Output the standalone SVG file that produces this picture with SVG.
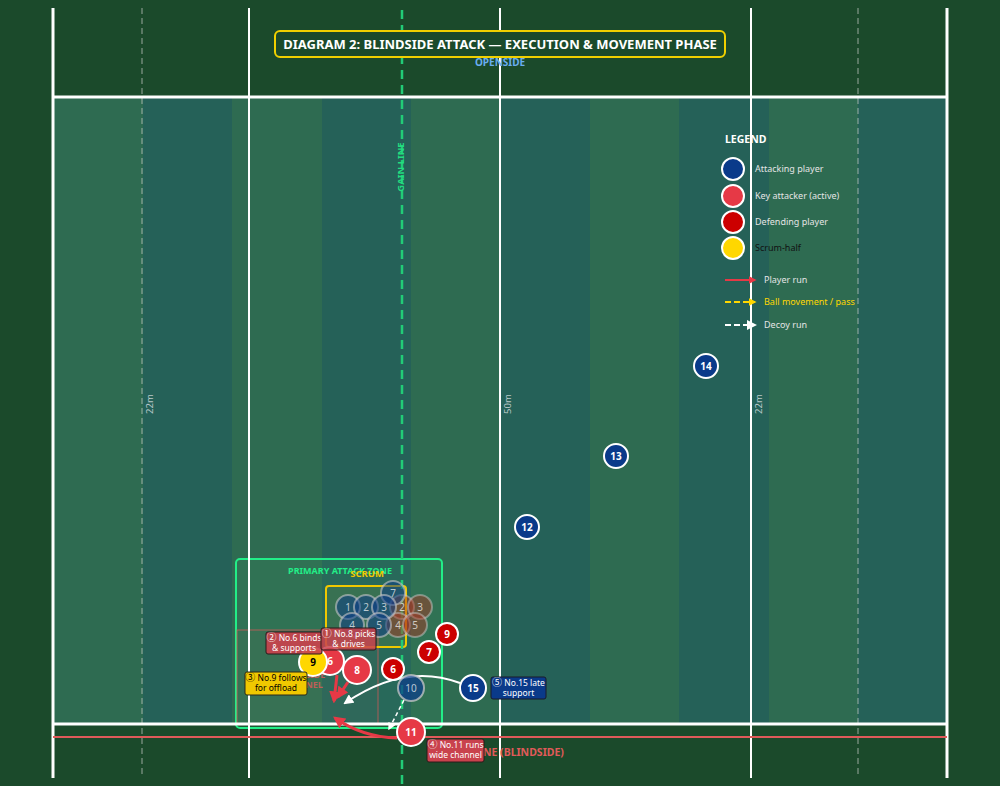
<svg xmlns="http://www.w3.org/2000/svg" width="1000" height="786" viewBox="0 0 1000 786">
<defs>
<style>
text{font-family:"Noto Sans","Open Sans","Liberation Sans",sans-serif}
.cj{font-family:"Noto Sans CJK SC","DejaVu Sans",sans-serif;font-size:10px}
.stL{fill:#2e6b51}
.stD{fill:#256158}
.wl{stroke:#ffffff;stroke-width:2}
.tl{stroke:#ffffff;stroke-width:3}
.dl{stroke:#d0d0d0;stroke-width:1;stroke-dasharray:6 4;opacity:0.7}
.dist{fill:#b8c8c8;font-size:9.5px}
.att{fill:#0a3a8a;stroke:#ffffff;stroke-width:2}
.key{fill:#e63946;stroke:#ffffff;stroke-width:2}
.def{fill:#cc0000;stroke:#ffffff;stroke-width:2}
.sh{fill:#ffd700;stroke:#ffffff;stroke-width:2}
.sa{fill:#0a3a8a;fill-opacity:0.5;stroke:#c8c8c8;stroke-opacity:0.6;stroke-width:2}
.sd{fill:#b03020;fill-opacity:0.45;stroke:#c8c8c8;stroke-opacity:0.5;stroke-width:2}
.num{fill:#ffffff;font-size:10px;font-weight:bold;text-anchor:middle}
.snum{fill:#ffffff;fill-opacity:0.7;font-size:10px;text-anchor:middle}
.lbl{font-size:8.5px;text-anchor:middle}
.leg{fill:#e4e4e4;font-size:9px}
.run{stroke:#e63946;stroke-width:3;fill:none}
</style>
<marker id="ar" viewBox="0 0 10 10" refX="8" refY="5" markerWidth="4" markerHeight="4" orient="auto"><path d="M0,0 L10,5 L0,10 z" fill="#e63946"/></marker>
<marker id="aw" viewBox="0 0 10 10" refX="8" refY="5" markerWidth="5" markerHeight="5" orient="auto"><path d="M0,0 L10,5 L0,10 z" fill="#ffffff"/></marker>
<marker id="ay" viewBox="0 0 10 10" refX="8" refY="5" markerWidth="4" markerHeight="4" orient="auto"><path d="M0,0 L10,5 L0,10 z" fill="#ffd700"/></marker>
</defs>
<rect width="1000" height="786" fill="#1b4a2b"/>
<g id="stripes">
<rect class="stL" x="53" y="97" width="90" height="627"/>
<rect class="stD" x="143" y="97" width="89" height="627"/>
<rect class="stL" x="232" y="97" width="90" height="627"/>
<rect class="stD" x="322" y="97" width="89" height="627"/>
<rect class="stL" x="411" y="97" width="89" height="627"/>
<rect class="stD" x="500" y="97" width="90" height="627"/>
<rect class="stL" x="590" y="97" width="89" height="627"/>
<rect class="stD" x="679" y="97" width="90" height="627"/>
<rect class="stL" x="769" y="97" width="89" height="627"/>
<rect class="stD" x="858" y="97" width="89" height="627"/>
</g>
<g id="zone-fills">
<rect x="236" y="559" width="206" height="169" rx="4" fill="#3a9a6a" fill-opacity="0.15" stroke="#22ee88" stroke-width="2"/>
<rect x="237" y="630" width="141" height="94" fill="#e05a5a" fill-opacity="0.04" stroke="#e05a5a" stroke-opacity="0.7" stroke-width="1"/>
<rect x="326" y="586" width="80" height="61" rx="3" fill="#ffd700" fill-opacity="0.08" stroke="#f0c800" stroke-width="2"/>
</g>
<g id="field">
<line class="dl" x1="142" y1="8" x2="142" y2="778"/>
<line class="dl" x1="858" y1="8" x2="858" y2="778"/>
<line class="wl" x1="249" y1="8" x2="249" y2="778"/>
<line class="wl" x1="500" y1="8" x2="500" y2="778"/>
<line class="wl" x1="751" y1="8" x2="751" y2="778"/>
<line class="tl" x1="53" y1="8" x2="53" y2="778"/>
<line class="tl" x1="947" y1="8" x2="947" y2="778"/>
<line class="tl" x1="53" y1="97" x2="947" y2="97"/>
<line class="tl" x1="53" y1="724" x2="947" y2="724"/>
<line x1="53" y1="737" x2="947" y2="737" stroke="#e05a5a" stroke-width="2"/>
<text x="500" y="756" fill="#e05a5a" font-size="10.5" font-weight="bold" text-anchor="middle">TOUCHLINE (BLINDSIDE)</text>
<text x="500" y="66" fill="#6aaef0" font-size="10" font-weight="bold" text-anchor="middle">OPENSIDE</text>
<text class="dist" transform="translate(153,404) rotate(-90)" text-anchor="middle">22m</text>
<text class="dist" transform="translate(511,404) rotate(-90)" text-anchor="middle">50m</text>
<text class="dist" transform="translate(762,404) rotate(-90)" text-anchor="middle">22m</text>
<line x1="402" y1="10" x2="402" y2="786" stroke="#22cc77" stroke-width="2.5" stroke-dasharray="9 6"/>
<text transform="translate(404,167) rotate(-90)" fill="#22dd80" font-size="9.5" font-weight="bold" text-anchor="middle">GAIN LINE</text>
</g>
<g id="title">
<rect x="275" y="31" width="450" height="26" rx="5" fill="#1b4a2b" stroke="#f0d000" stroke-width="2"/>
<text x="500" y="48.5" fill="#ffffff" font-size="13" font-weight="bold" text-anchor="middle">DIAGRAM 2: BLINDSIDE ATTACK — EXECUTION &amp; MOVEMENT PHASE</text>
</g>
<g id="zone-labels">
<text x="340" y="574" fill="#22ee88" font-size="9" font-weight="bold" text-anchor="middle">PRIMARY ATTACK ZONE</text>
<text x="301" y="678" fill="#e05a5a" fill-opacity="0.8" font-size="9" font-weight="bold" text-anchor="middle">BLINDSIDE</text>
<text x="301" y="688" fill="#e05a5a" fill-opacity="0.8" font-size="9" font-weight="bold" text-anchor="middle">CHANNEL</text>
<text x="367" y="577" fill="#f0c800" font-size="9.5" font-weight="bold" text-anchor="middle">SCRUM</text>
</g>
<g id="scrum">
<circle class="sd" cx="402" cy="607" r="12"/><text class="snum" x="402" y="611">2</text>
<circle class="sd" cx="420" cy="607" r="12"/><text class="snum" x="420" y="611">3</text>
<circle class="sd" cx="398" cy="625" r="12"/><text class="snum" x="398" y="629">4</text>
<circle class="sd" cx="415" cy="625" r="12"/><text class="snum" x="415" y="629">5</text>
<circle class="sa" cx="393" cy="593" r="12"/><text class="snum" x="393" y="597">7</text>
<circle class="sa" cx="348" cy="607" r="12"/><text class="snum" x="348" y="611">1</text>
<circle class="sa" cx="366" cy="607" r="12"/><text class="snum" x="366" y="611">2</text>
<circle class="sa" cx="384" cy="607" r="12"/><text class="snum" x="384" y="611">3</text>
<circle class="sa" cx="352" cy="625" r="12"/><text class="snum" x="352" y="629">4</text>
<circle class="sa" cx="379" cy="625" r="12"/><text class="snum" x="379" y="629">5</text>
</g>
<g id="connectors">
<path d="M460,683 Q405,662 345,703" fill="none" stroke="#ffffff" stroke-width="2" marker-end="url(#aw)"/>
<path d="M404,700 L389,729" fill="none" stroke="#ffffff" stroke-width="1.5" stroke-dasharray="4 3" marker-end="url(#aw)"/>
<path class="run" d="M337,675 L334,701" marker-end="url(#ar)"/>
<path class="run" d="M348,682 L338,697" marker-end="url(#ar)"/>
<path class="run" d="M397,738 Q362,737 335,718" marker-end="url(#ar)"/>
</g>
<g id="p-d9"><circle class="def" cx="447" cy="634" r="11"/><text class="num" x="447" y="638">9</text></g>
<g id="p-d7"><circle class="def" cx="429" cy="652" r="11"/><text class="num" x="429" y="656">7</text></g>
<g id="p-d6"><circle class="def" cx="393" cy="669" r="11"/><text class="num" x="393" y="673">6</text></g>
<g id="p-10"><circle cx="411" cy="688" r="13" fill="#0a3a8a" fill-opacity="0.7" stroke="#c8c8c8" stroke-opacity="0.75" stroke-width="2"/><text class="snum" x="411" y="692">10</text></g>
<g id="p-15"><circle class="att" cx="473" cy="688" r="13"/><text class="num" x="473" y="692">15</text></g>
<g id="p-8"><circle class="key" cx="357" cy="670" r="14"/><text class="num" x="357" y="674">8</text></g>
<g id="p-6"><circle class="key" cx="330" cy="661" r="14"/><text class="num" x="330" y="665">6</text></g>
<g id="p-9"><circle class="sh" cx="313" cy="662" r="14"/><text class="num" x="313" y="666" style="fill:#000">9</text></g>
<g id="p-11"><circle class="key" cx="411" cy="732" r="14"/><text class="num" x="411" y="736">11</text></g>
<g id="p-12"><circle class="att" cx="527" cy="527" r="12"/><text class="num" x="527" y="531">12</text></g>
<g id="p-13"><circle class="att" cx="616" cy="456" r="12"/><text class="num" x="616" y="460">13</text></g>
<g id="p-14"><circle class="att" cx="706" cy="366" r="12"/><text class="num" x="706" y="370">14</text></g>
<g id="labels">
<g id="l2"><rect x="266" y="632" width="56" height="22" rx="2" fill="#c9424d" fill-opacity="0.92" stroke="#2a1a1a" stroke-width="1"/>
<text class="lbl" x="294" y="641" fill="#ffffff"><tspan class="cj">②</tspan> No.6 binds</text><text class="lbl" x="294" y="651" fill="#ffffff">&amp; supports</text></g>
<g id="l1"><rect x="321" y="628" width="55" height="22" rx="2" fill="#c9424d" fill-opacity="0.85" stroke="#2a1a1a" stroke-width="1"/>
<text class="lbl" x="348.5" y="637" fill="#ffffff"><tspan class="cj">①</tspan> No.8 picks</text><text class="lbl" x="348.5" y="647" fill="#ffffff">&amp; drives</text></g>
<g id="l3"><rect x="245" y="672" width="62" height="23" rx="2" fill="#f0c800" stroke="#2a2a1a" stroke-width="1"/>
<text class="lbl" x="276" y="681" fill="#000000"><tspan class="cj">③</tspan> No.9 follows</text><text class="lbl" x="276" y="691" fill="#000000">for offload</text></g>
<g id="l4"><rect x="427" y="739" width="57" height="23" rx="2" fill="#c9424d" stroke="#2a1a1a" stroke-width="1"/>
<text class="lbl" x="455.5" y="748" fill="#ffffff"><tspan class="cj">④</tspan> No.11 runs</text><text class="lbl" x="455.5" y="758" fill="#ffffff">wide channel</text></g>
<g id="l5"><rect x="491" y="677" width="55" height="22" rx="2" fill="#0a3a8a" stroke="#1a1a2a" stroke-width="1"/>
<text class="lbl" x="518.5" y="686" fill="#ffffff"><tspan class="cj">⑤</tspan> No.15 late</text><text class="lbl" x="518.5" y="696" fill="#ffffff">support</text></g>
</g>
<g id="legend">
<text x="725" y="143" fill="#ffffff" font-size="10.5" font-weight="bold">LEGEND</text>
<circle class="att" cx="733" cy="169" r="11"/><text class="leg" x="755" y="172">Attacking player</text>
<circle class="key" cx="733" cy="196" r="11"/><text class="leg" x="755" y="199">Key attacker (active)</text>
<circle class="def" cx="733" cy="222" r="11"/><text class="leg" x="755" y="225">Defending player</text>
<circle class="sh" cx="733" cy="248" r="11"/><text class="leg" x="755" y="251" style="fill:#111">Scrum-half</text>
<line x1="725" y1="280" x2="755" y2="280" stroke="#e63946" stroke-width="2" marker-end="url(#ar)"/>
<text class="leg" x="764" y="283">Player run</text>
<line x1="725" y1="302" x2="755" y2="302" stroke="#ffd700" stroke-width="2" stroke-dasharray="6 3" marker-end="url(#ay)"/>
<text class="leg" x="764" y="305" style="fill:#ffd700">Ball movement / pass</text>
<line x1="725" y1="325" x2="755" y2="325" stroke="#ffffff" stroke-width="2" stroke-dasharray="6 3" marker-end="url(#aw)"/>
<text class="leg" x="764" y="328">Decoy run</text>
</g>
</svg>
